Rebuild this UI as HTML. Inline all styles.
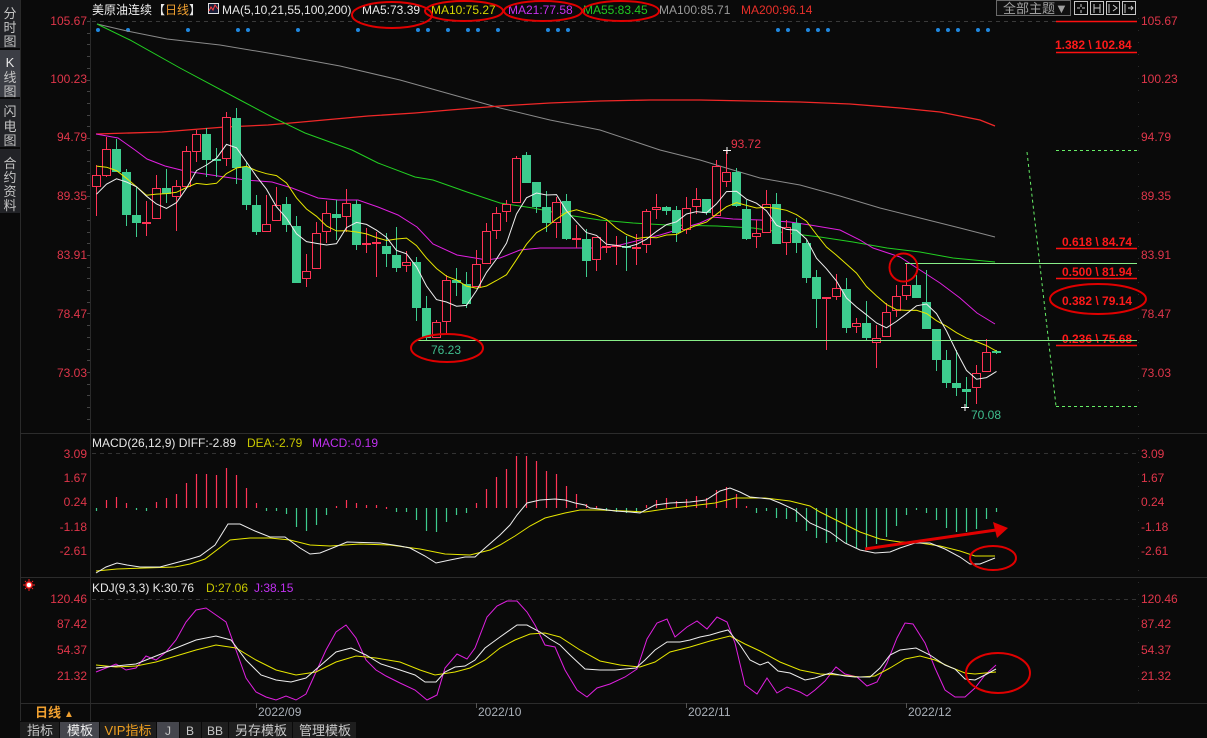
<!DOCTYPE html>
<html><head><meta charset="utf-8">
<style>
html,body{margin:0;padding:0;background:#0a0a0a;width:1207px;height:738px;overflow:hidden}
svg{display:block}
text{font-family:"Liberation Sans","Noto Sans CJK SC",sans-serif}
</style></head>
<body>
<svg id="s" width="1207" height="738" viewBox="0 0 1207 738" xmlns="http://www.w3.org/2000/svg">
<rect width="1207" height="738" fill="#0a0a0a"/>
<!-- sidebar -->
<rect x="0" y="0" width="20" height="48" fill="#222327"/>
<rect x="0" y="50" width="20" height="47" fill="#3c3e45"/>
<rect x="0" y="99" width="20" height="48" fill="#222327"/>
<rect x="0" y="149" width="20" height="64" fill="#222327"/>
<g font-size="13" fill="#c4c4c4" text-anchor="middle">
<text x="10" y="18">分</text><text x="10" y="32">时</text><text x="10" y="46">图</text>
<text x="10" y="67" font-family="Liberation Serif" fill="#e8e8e8">K</text><text x="10" y="82">线</text><text x="10" y="96">图</text>
<text x="10" y="116">闪</text><text x="10" y="131">电</text><text x="10" y="145">图</text>
<text x="10" y="168">合</text><text x="10" y="182">约</text><text x="10" y="196">资</text><text x="10" y="210">料</text>
</g>
<line x1="20.5" y1="0" x2="20.5" y2="721" stroke="#2a2a2a"/>
<line x1="90.5" y1="18" x2="90.5" y2="721" stroke="#2a2a2a"/>
<line x1="1138.5" y1="18" x2="1138.5" y2="703" stroke="#2a2a2a" stroke-dasharray="1,11"/>
<!-- panel separators -->
<line x1="20" y1="433.5" x2="1207" y2="433.5" stroke="#2c2c2c"/>
<line x1="20" y1="577.5" x2="1207" y2="577.5" stroke="#2c2c2c"/>
<line x1="20" y1="703.5" x2="1207" y2="703.5" stroke="#2c2c2c"/>
<!-- dashed top lines -->
<line x1="92" y1="21.5" x2="1056" y2="21.5" stroke="#3a3a3a" stroke-dasharray="4,4"/>
<line x1="92" y1="453.5" x2="1138" y2="453.5" stroke="#333" stroke-dasharray="4,4"/>
<line x1="92" y1="599.5" x2="1138" y2="599.5" stroke="#333" stroke-dasharray="4,4"/>

<!-- header -->
<text x="92" y="14" font-size="12" fill="#f0f0f0">美原油连续</text>
<text x="153" y="14" font-size="12" fill="#e8e8e8">【<tspan fill="#f0a030">日线</tspan>】</text>
<rect x="208.5" y="3.5" width="10" height="10" fill="#1a1f3a" stroke="#e0e0e0"/>
<polyline points="209,11 211,7 213,10 215,5 218,9" fill="none" stroke="#ff4040" stroke-width="1"/>
<text x="222" y="14" font-size="12" fill="#e8e8e8">MA(5,10,21,55,100,200)</text>
<text x="362" y="14" font-size="12" fill="#e8e8e8">MA5:73.39</text>
<text x="431" y="14" font-size="12" fill="#d8d800">MA10:75.27</text>
<text x="508" y="14" font-size="12" fill="#c830f0">MA21:77.58</text>
<text x="583" y="14" font-size="12" fill="#20c820">MA55:83.45</text>
<text x="659" y="14" font-size="12" fill="#9a9a9a">MA100:85.71</text>
<text x="741" y="14" font-size="12" fill="#e8302a">MA200:96.14</text>
<g fill="none" stroke="#e00000" stroke-width="2">
<ellipse cx="392" cy="15" rx="40" ry="13"/>
<ellipse cx="464" cy="11" rx="39" ry="10"/>
<ellipse cx="543" cy="11" rx="39" ry="10"/>
<ellipse cx="621" cy="11" rx="38" ry="10"/>
</g>
<!-- top right controls -->
<rect x="996.5" y="0.5" width="74" height="15" fill="#111" stroke="#6a6a6a"/>
<text x="1003" y="13" font-size="13" fill="#a0a0a0">全部主题▼</text>
<g fill="none" stroke="#c8c8c8">
<rect x="1074.5" y="1.5" width="13" height="13"/><rect x="1090.5" y="1.5" width="13" height="13"/>
<rect x="1106.5" y="1.5" width="13" height="13"/><rect x="1122.5" y="1.5" width="13" height="13"/>
<path d="M1081 4v3M1081 10v3M1077 8h3M1082 8h3M1094 4v9M1100 4v9M1094 8h6M1109 4v9M1113 5l4 3-4 3M1125 4v9M1128 8h5M1131 6l2 2-2 2"/>
</g>

<!-- axis labels -->
<g font-size="12" fill="#e0364a">
<g text-anchor="end">
<text x="87" y="25">105.67</text><text x="87" y="83">100.23</text><text x="87" y="141">94.79</text><text x="87" y="200">89.35</text><text x="87" y="259">83.91</text><text x="87" y="318">78.47</text><text x="87" y="377">73.03</text>
<text x="87" y="458">3.09</text><text x="87" y="482">1.67</text><text x="87" y="506">0.24</text><text x="87" y="531">-1.18</text><text x="87" y="555">-2.61</text>
<text x="87" y="603">120.46</text><text x="87" y="628">87.42</text><text x="87" y="654">54.37</text><text x="87" y="680">21.32</text>
</g>
<text x="1141" y="25">105.67</text><text x="1141" y="83">100.23</text><text x="1141" y="141">94.79</text><text x="1141" y="200">89.35</text><text x="1141" y="259">83.91</text><text x="1141" y="318">78.47</text><text x="1141" y="377">73.03</text>
<text x="1141" y="458">3.09</text><text x="1141" y="482">1.67</text><text x="1141" y="506">0.24</text><text x="1141" y="531">-1.18</text><text x="1141" y="555">-2.61</text>
<text x="1141" y="603">120.46</text><text x="1141" y="628">87.42</text><text x="1141" y="654">54.37</text><text x="1141" y="680">21.32</text>
</g>

<!-- panel titles -->
<text x="92" y="447" font-size="12" fill="#e8e8e8">MACD(26,12,9)  DIFF:-2.89</text>
<text x="247" y="447" font-size="12" fill="#c8c800">DEA:-2.79</text>
<text x="312" y="447" font-size="12" fill="#c030f0">MACD:-0.19</text>
<text x="92" y="592" font-size="12" fill="#e8e8e8">KDJ(9,3,3)  K:30.76</text>
<text x="206" y="592" font-size="12" fill="#c8c800">D:27.06</text>
<text x="254" y="592" font-size="12" fill="#c030f0">J:38.15</text>
<g stroke="#ff2020" stroke-width="1">
<circle cx="29" cy="585" r="3" fill="#fff" stroke="#ff2020" stroke-width="1.5"/>
<path d="M29 579v2M29 589v2M23 585h2M33 585h2M25 581l1 1M32 588l1 1M33 581l-1 1M25 589l1-1"/>
</g>

<g id="dyn"></g>

<!-- fib annotations -->
<line x1="1056" y1="21.5" x2="1137" y2="21.5" stroke="#ff1010" stroke-width="1.5"/>
<g font-size="12" font-weight="bold" fill="#ff1a1a">
<text x="1055" y="49">1.382 \ 102.84</text>
<text x="1062" y="246">0.618 \ 84.74</text>
<text x="1062" y="276">0.500 \ 81.94</text>
<text x="1062" y="305">0.382 \ 79.14</text>
<text x="1062" y="343">0.236 \ 75.68</text>
</g>
<g stroke="#ff1010" stroke-width="1.5">
<line x1="1056" y1="52.5" x2="1137" y2="52.5"/>
<line x1="1056" y1="248.5" x2="1137" y2="248.5"/>
<line x1="1056" y1="278.5" x2="1137" y2="278.5"/>
<line x1="1056" y1="345.5" x2="1137" y2="345.5"/>
</g>
<g stroke="#66ee66" stroke-dasharray="3,3" fill="none">
<line x1="1056" y1="150.5" x2="1138" y2="150.5"/>
<line x1="1056" y1="406.5" x2="1138" y2="406.5"/>
<line x1="1027" y1="152" x2="1056" y2="406"/>
</g>
<g stroke="#88ee88">
<line x1="905" y1="263.5" x2="1137" y2="263.5"/>
<line x1="418" y1="340.5" x2="1137" y2="340.5"/>
</g>

<!-- price markers -->
<text x="731" y="148" font-size="12" fill="#e8344a">93.72</text>
<text x="431" y="354" font-size="12" fill="#3fbf8f">76.23</text>
<text x="971" y="419" font-size="12" fill="#3fbf8f">70.08</text>
<g stroke="#fff"><path d="M723 150.5h8M727 147v7M961 407.5h8M965 404v7"/></g>

<!-- red annotations -->
<g fill="none" stroke="#e00000" stroke-width="2">
<ellipse cx="447" cy="348" rx="36" ry="14"/>
<circle cx="903.5" cy="267.5" r="14"/>
<ellipse cx="1098" cy="299" rx="48" ry="15"/>
<ellipse cx="993" cy="558" rx="23" ry="12"/>
<ellipse cx="998" cy="673" rx="32" ry="20"/>
<line x1="865" y1="549" x2="996" y2="530" stroke-width="3"/>
</g>
<polygon points="993,522 1008,528 997,538" fill="#e00000"/>

<!-- bottom axis -->
<g stroke="#555"><path d="M256.5 703v5M476.5 703v5M686.5 703v5M906.5 703v5"/></g>
<g font-size="12" fill="#aab0b8">
<text x="258" y="716">2022/09</text><text x="478" y="716">2022/10</text><text x="688" y="716">2022/11</text><text x="908" y="716">2022/12</text>
</g>
<text x="35" y="717" font-size="13" font-weight="bold" fill="#f0a030">日线</text>
<text x="64" y="717" font-size="10" fill="#f0a030">▲</text>

<!-- bottom tabs -->
<rect x="0" y="721" width="1207" height="17" fill="#0a0a0a"/>
<g>
<rect x="20" y="722" width="39" height="16" fill="#1e1e1e"/>
<rect x="60" y="722" width="39" height="16" fill="#45464d"/>
<rect x="100" y="722" width="56" height="16" fill="#1e1e1e"/>
<rect x="157" y="722" width="22" height="16" fill="#45464d"/>
<rect x="180" y="722" width="21" height="16" fill="#1e1e1e"/>
<rect x="202" y="722" width="26" height="16" fill="#1e1e1e"/>
<rect x="229" y="722" width="63" height="16" fill="#1e1e1e"/>
<rect x="293" y="722" width="63" height="16" fill="#1e1e1e"/>
</g>
<g font-size="13" fill="#c8c8c8" text-anchor="middle">
<text x="40" y="735">指标</text>
<text x="80" y="735" fill="#f0f0f0">模板</text>
<text x="128" y="735" fill="#f0a020" font-family="Liberation Serif,Noto Sans CJK SC,serif">VIP指标</text>
<text x="168" y="735" font-family="Liberation Mono" font-size="12">J</text>
<text x="190" y="735" font-family="Liberation Mono" font-size="12">B</text>
<text x="215" y="735" font-family="Liberation Mono" font-size="12">BB</text>
<text x="261" y="735">另存模板</text>
<text x="325" y="735">管理模板</text>
</g>
</svg>
<script>
(function(){
var D=[
['r',187,175,165,216],['r',176,149,137,177],['g',149,172,139,172],['g',172,215,169,226],['g',215,223,187,237],
['r',224,222,201,236],['r',219,188,175,219],['g',188,194,169,203],['r',197,186,180,231],['r',187,151,146,187],
['r',152,134,130,162],['g',134,160,128,177],['g',159,160,148,177],['r',159,117,112,166],['g',118,168,108,184],
['g',167,205,162,210],['g',205,232,195,235],['r',232,224,195,232],['r',221,205,187,221],['g',204,225,197,232],
['g',226,283,216,283],['r',279,271,254,287],['r',269,233,222,269],['r',232,213,201,243],['g',214,218,200,240],
['r',217,203,189,232],['g',204,245,200,250],['r',244,243,228,253],['r',243,242,232,277],['g',246,254,233,267],
['g',255,268,227,272],['r',266,262,251,272],['g',262,308,257,321],['g',308,338,296,340],['r',338,322,320,338],
['r',322,280,275,335],['g',280,283,268,296],['g',284,304,272,308],['r',287,264,250,287],['r',264,231,223,264],
['r',231,213,207,239],['r',212,204,200,222],['r',203,158,156,203],['g',155,183,152,183],['g',182,207,182,213],
['g',207,223,191,232],['r',223,202,197,238],['g',201,239,194,240],['r',239,238,225,248],['g',239,261,229,277],
['r',260,237,237,271],['r',247,246,222,253],['r',246,245,236,265],['g',246,247,236,271],['r',248,247,234,265],
['r',245,211,209,253],['r',210,207,194,219],['g',207,211,206,215],['g',210,233,206,242],['r',230,208,197,234],
['r',207,199,188,214],['g',199,213,199,215],['r',216,166,160,216],['r',182,172,151,187],['g',172,206,168,207],
['g',209,239,200,240],['r',237,233,220,248],['r',233,204,190,233],['g',204,244,193,244],['r',243,227,220,255],
['g',223,243,218,253],['g',243,278,240,283],['g',277,299,270,328],['r',298,297,297,350],['r',297,288,274,300],
['g',289,328,278,333],['r',327,323,318,333],['g',323,338,301,340],['r',343,338,325,368],['r',337,312,303,337],
['r',311,296,285,317],['r',296,285,263,300],['g',285,298,275,298],['g',302,329,270,329],['g',329,360,329,371],
['g',360,383,350,388],['g',383,388,350,396],['g',389,392,377,407],['r',388,373,365,404],['r',372,352,339,372],
['g',351,352,350,354]];
var H=[511,500,497,503,509,511,502,498,494,483,474,474,475,468,475,488,503,511,511,514,527,531,525,515,506,500,503,505,505,507,
512,512,520,531,532,522,515,513,503,489,477,469,456,456,461,471,474,486,494,504,506,511,512,513,513,505,500,498,501,499,
496,498,490,487,494,506,513,511,518,519,522,531,538,543,542,544,548,548,544,537,526,515,510,513,520,528,532,532,529,519,512];
var RED='#ff3355',GRN='#3dcc8e';
var s='';
function X(i){return 96+10*i;}
// blue dots
[98,128,188,238,248,298,358,418,428,448,468,478,498,548,558,568,778,788,808,818,828,938,948,958,978,988].forEach(function(x){
 s+='<circle cx="'+x+'" cy="30" r="2" fill="#1f88e0"/>';});
function pl(p,c,w){s+='<polyline points="'+p+'" fill="none" stroke="'+c+'" stroke-width="'+(w||1)+'"/>';}
// long MAs
pl("97,24 127,31 167,39 220,45 280,55 340,66 400,80 450,94 500,108 550,120 600,130 660,150 700,160 733,170 760,178 800,185 840,196 880,208 920,218 960,228 995,237","#8a8a8a");
pl("96,134 162,132 225,127 268,125 302,122 368,116 415,113 450,110 500,106 550,103 600,101 650,100 700,100 750,101 800,102 850,104 900,108 940,112 960,116 980,120 995,126","#f02828",1.3);
pl("97,24 130,40 180,68 240,100 272,117 305,133 352,150 378,163 415,177 433,180 467,192 500,203 533,208 567,215 600,220 633,223 667,225 717,226 753,228 787,233 820,237 853,242 887,248 920,252 953,258 995,262","#22d022");
pl("96,134 118,138 135,150 147,159 165,166 185,171 218,176 245,180 272,182 292,188 318,198 338,200 358,200 378,207 398,215 417,227 433,244 457,255 487,260 500,258 520,250 540,248 600,248 620,245 640,240 660,235 680,229 700,223 713,217 733,219 760,220 790,222 810,225 840,230 860,240 873,248 900,257 920,270 940,283 960,298 977,313 995,324","#e020e0");
// candles
D.forEach(function(d,i){
 var t=d[0],o=d[1],c=d[2],h=d[3],l=d[4],x=X(i),top=Math.min(o,c),bot=Math.max(o,c),xc=x+0.5;
 if(t==='r'){
  if(bot-top<=2){
   s+='<line x1="'+xc+'" y1="'+h+'" x2="'+xc+'" y2="'+l+'" stroke="'+RED+'"/>';
   s+='<rect x="'+(x-4)+'" y="'+top+'" width="9" height="2" fill="'+RED+'"/>';
  }else{
   if(h<top)s+='<line x1="'+xc+'" y1="'+h+'" x2="'+xc+'" y2="'+top+'" stroke="'+RED+'"/>';
   if(l>bot)s+='<line x1="'+xc+'" y1="'+bot+'" x2="'+xc+'" y2="'+l+'" stroke="'+RED+'"/>';
   s+='<rect x="'+(x-3.5)+'" y="'+(top+0.5)+'" width="8" height="'+(bot-top-1)+'" fill="#0a0a0a" stroke="'+RED+'"/>';
  }
 }else{
  s+='<line x1="'+xc+'" y1="'+h+'" x2="'+xc+'" y2="'+l+'" stroke="'+GRN+'"/>';
  s+='<rect x="'+(x-4)+'" y="'+top+'" width="9" height="'+Math.max(bot-top,2)+'" fill="'+GRN+'"/>';
 }
});
// MA5, MA10 computed
var seeds=[138,138,138,138,138,199,199,199,199];
var C=seeds.concat(D.map(function(d){return d[2];}));
function ma(n){var p=[];for(var i=0;i<D.length;i++){var k=i+9,sum=0;for(var j=0;j<n;j++)sum+=C[k-j];p.push((X(i)+0.5)+','+(sum/n).toFixed(1));}return p.join(' ');}
pl(ma(10),"#e6e600");
pl(ma(5),"#eeeeee");
// MACD histogram
H.forEach(function(v,i){var x=X(i)+0.5,z=508;var col=v<z?RED:GRN;var a=Math.min(v,z),b=Math.max(v,z);if(b-a<2){b=a+2;}
 s+='<line x1="'+x+'" y1="'+a+'" x2="'+x+'" y2="'+b+'" stroke="'+col+'" stroke-width="1.2"/>';});
pl("96,571 117,569 145,568 175,567 190,564 205,559 230,540 250,538 270,538 290,540 310,545 330,546 360,544 390,545 420,549 445,554 470,555 490,550 500,545 515,536 530,526 545,518 565,513 580,510 600,510 625,511 645,512 665,509 690,506 715,503 735,498 765,498 790,501 810,506 820,512 840,522 860,532 880,539 900,542 920,543 940,546 960,551 975,556 995,556","#e6e600");
pl("96,573 106,567 117,563 127,565 140,567 160,567 175,563 190,559 200,556 215,545 228,524 240,524 255,531 270,537 285,537 300,548 310,554 320,553 335,547 347,542 380,543 400,546 410,548 425,556 436,563 450,560 465,557 475,557 485,548 500,535 510,525 517,515 527,503 540,500 555,499 565,500 575,503 585,505 590,508 600,509 615,511 630,512 640,513 655,505 670,503 690,502 706,500 720,491 730,488 740,492 750,497 770,499 780,503 795,510 810,523 830,532 845,543 860,550 875,553 890,552 900,548 915,543 930,543 945,549 960,557 970,564 980,564 995,558","#eeeeee");
// KDJ
pl("96,672 106,668 116,664 126,670 136,668 146,656 156,660 166,652 176,640 186,622 196,610 206,608 216,615 226,622 236,650 246,678 256,692 266,697 276,700 286,696 296,700 306,694 316,672 326,650 336,632 346,625 356,638 366,660 376,670 386,676 400,683 415,690 427,700 437,695 445,668 457,654 467,659 475,648 487,617 497,606 507,601 517,601 527,612 535,625 545,645 555,647 565,670 577,690 587,697 597,688 610,684 625,677 637,669 647,639 657,623 667,619 675,637 687,627 697,621 707,629 717,617 727,622 735,643 745,685 757,694 767,678 777,693 787,687 800,692 807,696 815,690 825,681 836,667 845,674 857,677 867,686 877,682 887,663 897,638 905,623 913,624 925,643 935,668 945,690 955,697 965,697 975,688 985,675 996,665","#e020e0");
pl("96,665 116,667 136,666 156,662 176,656 196,650 216,645 236,648 256,660 276,670 296,675 316,672 336,662 356,656 376,658 400,662 420,670 435,675 455,672 470,668 485,660 500,648 515,640 530,634 545,633 560,637 580,650 600,661 620,665 640,667 655,662 670,652 690,647 710,641 730,636 745,644 760,651 780,662 800,670 820,674 840,675 860,677 875,676 890,668 905,659 920,656 935,660 950,667 965,673 975,674 985,673 996,672","#e6e600");
pl("96,668 116,666 136,664 156,656 176,648 196,640 216,636 231,640 246,660 261,675 276,680 291,682 306,678 321,665 336,652 351,648 366,655 381,664 400,670 415,675 425,682 436,682 445,672 455,667 465,666 475,660 485,648 500,637 517,625 527,625 540,632 550,639 560,645 570,655 585,669 600,670 615,670 625,669 636,668 645,660 655,650 667,642 680,642 690,640 700,637 710,635 720,632 728,630 740,645 750,660 760,665 768,662 778,671 790,673 805,680 815,678 830,673 845,676 855,677 870,677 880,668 890,655 900,650 916,648 930,655 945,665 955,669 965,679 975,680 985,675 996,669","#eeeeee");
// axis ticks
var t='';for(var y=21;y<=420;y+=11.7){t+='M87 '+Math.round(y)+'.5h3';}
document.getElementById('dyn').innerHTML=s+'<path d="'+t+'" stroke="#444"/>';
})();
</script>
</body></html>
